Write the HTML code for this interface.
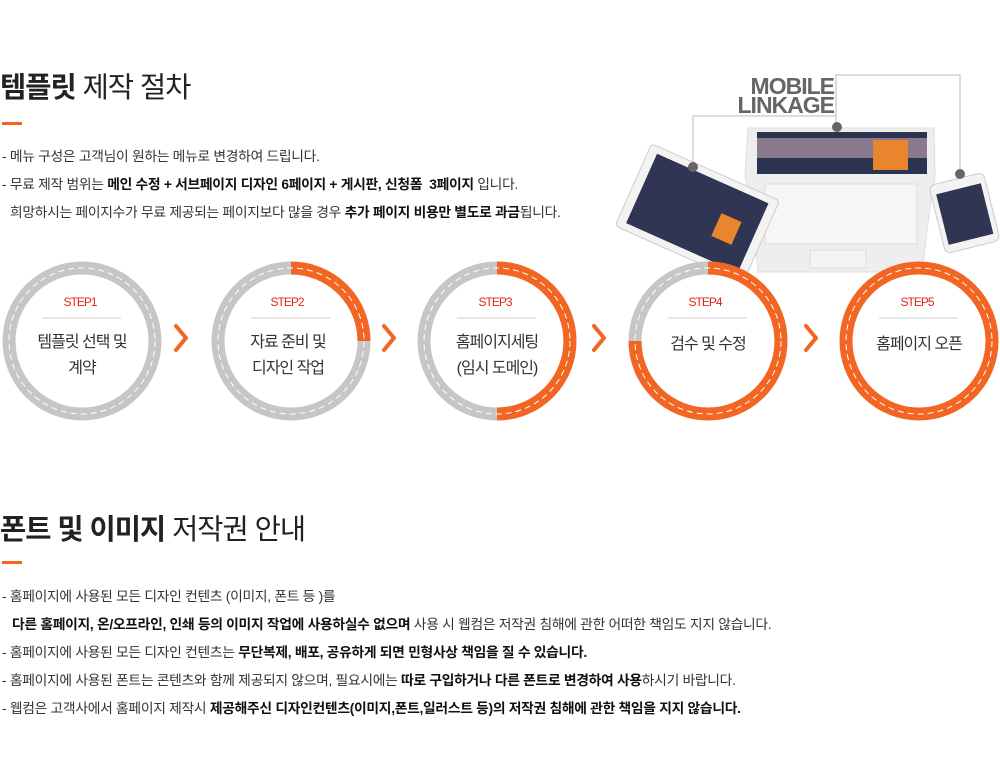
<!DOCTYPE html>
<html><head><meta charset="utf-8"><style>
body{margin:0;width:1000px;height:784px;background:#fff;position:relative;overflow:hidden;font-family:"Liberation Sans","Noto Sans CJK KR",sans-serif;color:#333}
.a{position:absolute;white-space:nowrap}
h2{position:absolute;margin:0;font-size:28.5px;font-weight:normal;color:#222;letter-spacing:-1px}
h2 b{font-weight:bold}
.bar{position:absolute;width:20px;height:3px;background:#f26522}
.t{font-size:13.8px;color:#333;letter-spacing:-0.3px}
.t b{color:#111}
</style></head><body>
<h2 style="left:0;top:65px"><b>템플릿</b> 제작 절차</h2>
<div class="bar" style="left:2px;top:122px"></div>
<div class="a t" style="left:2px;top:145px">- 메뉴 구성은 고객님이 원하는 메뉴로 변경하여 드립니다.</div>
<div class="a t" style="left:2px;top:173px">- 무료 제작 범위는 <b>메인 수정 + 서브페이지 디자인 6페이지 + 게시판, 신청폼&nbsp; 3페이지</b> 입니다.</div>
<div class="a t" style="left:10px;top:201px">희망하시는 페이지수가 무료 제공되는 페이지보다 많을 경우 <b>추가 페이지 비용만 별도로 과금</b>됩니다.</div>

<svg class="a" style="left:0;top:0" width="1000" height="784">
 <g fill="none" stroke="#bbb" stroke-width="1">
  <polyline points="693,170 693,116 836,116 836,125"/>
  <polyline points="836,116 836,75 960,75 960,173"/>
 </g>
 <text x="834" y="94" text-anchor="end" font-family="Liberation Sans" font-weight="bold" font-size="23" fill="#666" letter-spacing="-1">MOBILE</text>
 <text x="834" y="113" text-anchor="end" font-family="Liberation Sans" font-weight="bold" font-size="23" fill="#666" letter-spacing="-1">LINKAGE</text>
 <path d="M748,128 L934,128 L935,176 L930,206 L922,272 L758,272 L752,206 L745,176Z" fill="#eee" stroke="#ddd"/>
 <rect x="757" y="132" width="170" height="42" fill="#2a3450"/>
 <rect x="757" y="138" width="170" height="20" fill="#8a7a90"/>
 <rect x="873" y="140" width="35" height="30" fill="#e9852d"/>
 <rect x="765" y="184" width="152" height="60" fill="#f6f6f6" stroke="#ddd"/>
 <rect x="810" y="250" width="56" height="18" fill="#f4f4f4" stroke="#ddd"/>
 <g transform="rotate(24 690 210)">
  <rect x="628" y="165" width="140" height="90" rx="4" fill="#f3f3f3" stroke="#ccc"/>
  <rect x="637" y="172" width="122" height="76" fill="#2f3552"/>
  <rect x="720" y="200" width="22" height="25" fill="#e9852d"/>
 </g>
 <g transform="rotate(-14 965 215)">
  <rect x="937" y="178" width="56" height="70" rx="6" fill="#f3f3f3" stroke="#ccc"/>
  <rect x="942" y="188" width="46" height="52" fill="#2f3552"/>
 </g>
 <circle cx="693" cy="167" r="5" fill="#666"/>
 <circle cx="837" cy="127" r="5" fill="#666"/>
 <circle cx="960" cy="174" r="5" fill="#666"/>
 <g fill="none">
  <circle cx="82" cy="341" r="73" fill="#fff"/>
  <circle cx="291" cy="341" r="73" fill="#fff"/>
  <circle cx="497" cy="341" r="73" fill="#fff"/>
  <circle cx="708" cy="341" r="73" fill="#fff"/>
  <circle cx="919" cy="341" r="73" fill="#fff"/>
  <g stroke-width="13" stroke="#c6c6c6">
   <circle cx="82" cy="341" r="73"/><circle cx="291" cy="341" r="73"/><circle cx="497" cy="341" r="73"/>
   <circle cx="708" cy="341" r="73"/>
  </g>
  <g stroke-width="13" stroke="#f26522">
   <path d="M291,268 A73,73 0 0 1 364,341"/>
   <path d="M497,268 A73,73 0 0 1 497,414"/>
   <path d="M708,268 A73,73 0 1 1 635,341"/>
   <circle cx="919" cy="341" r="73"/>
  </g>
  <g stroke="#fff" stroke-width="1" stroke-dasharray="6 4">
   <circle cx="82" cy="341" r="73"/><circle cx="291" cy="341" r="73"/><circle cx="497" cy="341" r="73"/>
   <circle cx="708" cy="341" r="73"/><circle cx="919" cy="341" r="73"/>
  </g>
  <g stroke="#ccc" stroke-width="1">
   <line x1="42" y1="318" x2="121" y2="318"/><line x1="251" y1="318" x2="330" y2="318"/>
   <line x1="457" y1="318" x2="536" y2="318"/><line x1="668" y1="318" x2="747" y2="318"/>
   <line x1="879" y1="318" x2="958" y2="318"/>
  </g>
  <g stroke="#f26522" stroke-width="4" stroke-linecap="round" stroke-linejoin="round">
   <polyline points="176,326 186,338 176,350"/><polyline points="384,326 394,338 384,350"/>
   <polyline points="594,326 604,338 594,350"/><polyline points="806,326 816,338 806,350"/>
  </g>
 </g>
 <g font-family="Liberation Sans,Noto Sans CJK KR,sans-serif" text-anchor="middle">
  <g fill="#e8231b" font-size="12" letter-spacing="-1">
   <text x="80" y="306">STEP1</text><text x="287" y="306">STEP2</text><text x="495" y="306">STEP3</text>
   <text x="705" y="306">STEP4</text><text x="917" y="306">STEP5</text>
  </g>
  <g fill="#333" font-size="16" letter-spacing="-1">
   <text x="82" y="347">템플릿 선택 및</text><text x="82" y="373">계약</text>
   <text x="288" y="347">자료 준비 및</text><text x="288" y="373">디자인 작업</text>
   <text x="497" y="347">홈페이지세팅</text><text x="497" y="373">(임시 도메인)</text>
   <text x="708" y="349">검수 및 수정</text>
   <text x="919" y="349">홈페이지 오픈</text>
  </g>
 </g>
</svg>

<h2 style="left:0;top:507px"><b>폰트 및 이미지</b> 저작권 안내</h2>
<div class="bar" style="left:2px;top:561px"></div>
<div class="a t" style="left:2px;top:585px">- 홈페이지에 사용된 모든 디자인 컨텐츠 (이미지, 폰트 등 )를</div>
<div class="a t" style="left:12px;top:613px"><b>다른 홈페이지, 온/오프라인, 인쇄 등의 이미지 작업에 사용하실수 없으며</b> 사용 시 웹컴은 저작권 침해에 관한 어떠한 책임도 지지 않습니다.</div>
<div class="a t" style="left:2px;top:641px">- 홈페이지에 사용된 모든 디자인 컨텐츠는 <b>무단복제, 배포, 공유하게 되면 민형사상 책임을 질 수 있습니다.</b></div>
<div class="a t" style="left:2px;top:669px">- 홈페이지에 사용된 폰트는 콘텐츠와 함께 제공되지 않으며, 필요시에는 <b>따로 구입하거나 다른 폰트로 변경하여 사용</b>하시기 바랍니다.</div>
<div class="a t" style="left:2px;top:697px">- 웹컴은 고객사에서 홈페이지 제작시 <b>제공해주신 디자인컨텐츠(이미지,폰트,일러스트 등)의 저작권 침해에 관한 책임을 지지 않습니다.</b></div>
</body></html>
